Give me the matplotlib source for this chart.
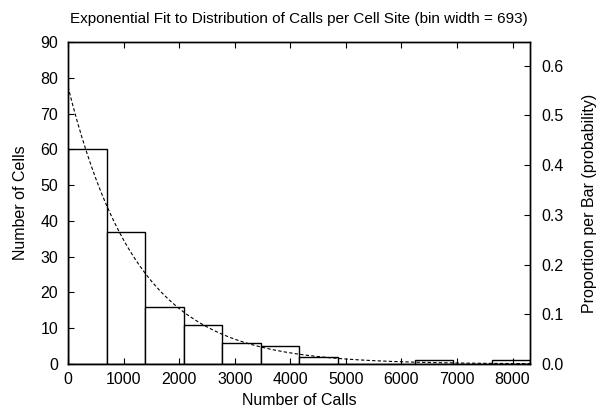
import numpy as np
import matplotlib
matplotlib.use("Agg")
import matplotlib.pyplot as plt

plt.rcParams['font.family'] = ['Liberation Sans', 'DejaVu Sans']

# histogram data
bin_width = 693
counts = [60, 37, 16, 11, 6, 5, 2, 0, 0, 1, 0, 1]
fit_mean = 1243  # mean used for the exponential fit
total = sum(counts)

edges = np.arange(len(counts)) * bin_width

fig = plt.figure(figsize=(6.1, 4.19), dpi=100)
ax = fig.add_axes([0.1115, 0.1313, 0.7575, 0.7685])

ax.bar(edges, counts, width=bin_width, align='edge', facecolor='white',
       edgecolor='black', linewidth=1.0)

xs = np.linspace(0, len(counts) * bin_width, 400)
ys = total * bin_width / fit_mean * np.exp(-xs / fit_mean)
ax.plot(xs, ys, color='black', linestyle=(0, (3, 2)), linewidth=0.8)

fs = 11.5
ax.set_xlim(0, len(counts) * bin_width)
ax.set_ylim(0, 90)
ax.set_xticks(range(0, 8001, 1000))
ax.set_yticks(range(0, 91, 10))
ax.tick_params(direction='in', length=4, labelsize=fs, top=True, right=False)
ax.tick_params(axis='x', pad=6)
ax.tick_params(axis='y', pad=7)
ax.set_xlabel('Number of Calls', fontsize=fs, labelpad=4)
ax.set_ylabel('Number of Cells', fontsize=fs, labelpad=9)
ax.set_title('Exponential Fit to Distribution of Calls per Cell Site (bin width = 693)',
             fontsize=11, pad=14)

ax2 = ax.twinx()
ax2.set_ylim(0, 90 / total)
ax2.set_yticks(np.arange(0, 0.61, 0.1))
ax2.set_yticklabels([f'{v:.1f}' for v in np.arange(0, 0.61, 0.1)])
ax2.tick_params(direction='in', length=4, labelsize=fs, pad=8)
ax2.set_ylabel('Proportion per Bar (probability)', fontsize=fs, labelpad=13)

for a in (ax, ax2):
    for s in a.spines.values():
        s.set_linewidth(1.0)

fig.savefig('out.png', dpi=100)
